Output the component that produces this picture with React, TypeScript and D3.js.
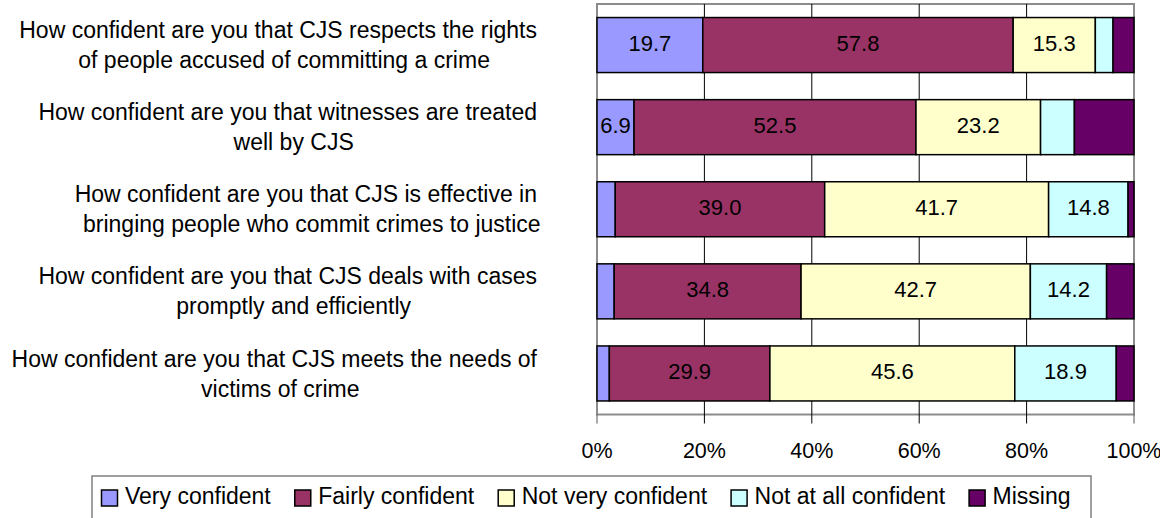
import React from 'react';
import * as d3 from 'd3';

const categories = [
  "How confident are you that CJS respects the rights\nof people accused of committing a crime",
  "How confident are you that witnesses are treated\nwell by CJS",
  "How confident are you that CJS is effective in\nbringing people who commit crimes to justice",
  "How confident are you that CJS deals with cases\npromptly and efficiently",
  "How confident are you that CJS meets the needs of\nvictims of crime",
];
const seriesNames = ["Very confident", "Fairly confident", "Not very confident", "Not at all confident", "Missing"];
const veryConfident = [19.7, 6.9, 3.4, 3.2, 2.3];
const fairlyConfident = [57.8, 52.5, 39.0, 34.8, 29.9];
const notVeryConfident = [15.3, 23.2, 41.7, 42.7, 45.6];
const notAtAllConfident = [3.3, 6.3, 14.8, 14.2, 18.9];
const missing = [3.9, 11.1, 1.1, 5.1, 3.3];
const xTicks = [0, 20, 40, 60, 80, 100];
const colors = ["#9999FF", "#993366", "#FFFFCC", "#CCFFFF", "#660066"];

const FONT = '"Liberation Sans", Arial, sans-serif';

let _ctx: CanvasRenderingContext2D | null = null;
function measure(text: string, size: number): number {
  if (!_ctx) _ctx = document.createElement('canvas').getContext('2d');
  if (!_ctx) return text.length * size * 0.5;
  _ctx.font = `${size}px ${FONT}`;
  return _ctx.measureText(text).width;
}

export default function App() {
  const W = 1160, H = 518;
  const left = 597, right = 1134, top = 4, bottom = 414.5;

  const seriesValues = [veryConfident, fairlyConfident, notVeryConfident, notAtAllConfident, missing];
  const rows = categories.map((c, i) => {
    const r: any = { cat: c };
    seriesNames.forEach((s, j) => (r[s] = seriesValues[j][i]));
    return r;
  });
  const stacked = d3.stack<any>().keys(seriesNames)(rows);

  const x = d3.scaleLinear().domain([0, 100]).range([left, right]);
  const y = d3.scaleBand<string>().domain(categories).range([top, bottom]).paddingInner(0.33).paddingOuter(0.165);

  const catSize = 23;
  const legendSize = 23;
  const tickSize = 21.5;
  const valSize = 22;

  // legend layout
  let lx = 101.5;
  const legendItems = seriesNames.map((s, i) => {
    const item = { s, i, x: lx };
    lx += 23.5 + measure(s, legendSize) + 24;
    return item;
  });

  return (
    <div style={{ position: 'absolute', left: 0, top: 0 }}>
      <svg width={W} height={H} style={{ display: 'block', fontFamily: FONT }}>
        <rect x={0} y={0} width={W} height={H} fill="#fff" />
        {/* plot border */}
        <rect x={left} y={top} width={right - left} height={bottom - top} fill="none" stroke="#8c8c8c" strokeWidth={2} />
        {/* gridlines + ticks */}
        {xTicks.map(t => (
          <line key={'g' + t} x1={x(t)} x2={x(t)} y1={t === 0 || t === 100 ? bottom : top} y2={bottom + 9}
            stroke={t === 0 || t === 100 ? '#555' : '#000'} strokeWidth={1} />
        ))}
        {/* bars */}
        {stacked.map((layer, si) => (
          <g key={layer.key}>
            {layer.map((d, ci) => (
              <rect key={ci} x={x(d[0])} y={y(categories[ci])!} width={x(d[1]) - x(d[0])} height={y.bandwidth()}
                fill={colors[si]} stroke="#000" strokeWidth={1.5} />
            ))}
          </g>
        ))}
        {/* value labels */}
        {stacked.map((layer, si) =>
          layer.map((d, ci) => {
            const v = d[1] - d[0];
            if (seriesNames[si] === 'Missing' || v < 6.5) return null;
            return (
              <text key={layer.key + ci} x={(x(d[0]) + x(d[1])) / 2} y={y(categories[ci])! + y.bandwidth() / 2 + 6}
                textAnchor="middle" fontSize={valSize} fill="#000">
                {v.toFixed(1)}
              </text>
            );
          })
        )}
        {/* category labels */}
        {categories.map(c => {
          const lines = c.split('\n');
          const cy = y(c)! + y.bandwidth() / 2;
          const w1 = measure(lines[0], catSize);
          const cx = 537 - w1 / 2;
          return (
            <g key={c}>
              {lines.map((ln, k) => (
                <text key={k} x={k === 0 ? 537 : cx + 6} y={cy + (k === 0 ? -15 : 15)} dy="0.35em"
                  textAnchor={k === 0 ? 'end' : 'middle'} fontSize={catSize} fill="#000">
                  {ln}
                </text>
              ))}
            </g>
          );
        })}
        {/* x tick labels */}
        {xTicks.map(t => (
          <text key={'t' + t} x={x(t)} y={458} textAnchor="middle" fontSize={tickSize} fill="#000">
            {t + '%'}
          </text>
        ))}
        {/* legend */}
        <rect x={92} y={476} width={1091 - 92} height={60} fill="#fff" stroke="#808080" strokeWidth={1.5} />
        {legendItems.map(it => (
          <g key={it.s}>
            <rect x={it.x} y={490} width={16} height={16} fill={colors[it.i]} stroke="#000" strokeWidth={1.5} />
            <text x={it.x + 23.5} y={504} fontSize={legendSize} fill="#000">{it.s}</text>
          </g>
        ))}
      </svg>
    </div>
  );
}
